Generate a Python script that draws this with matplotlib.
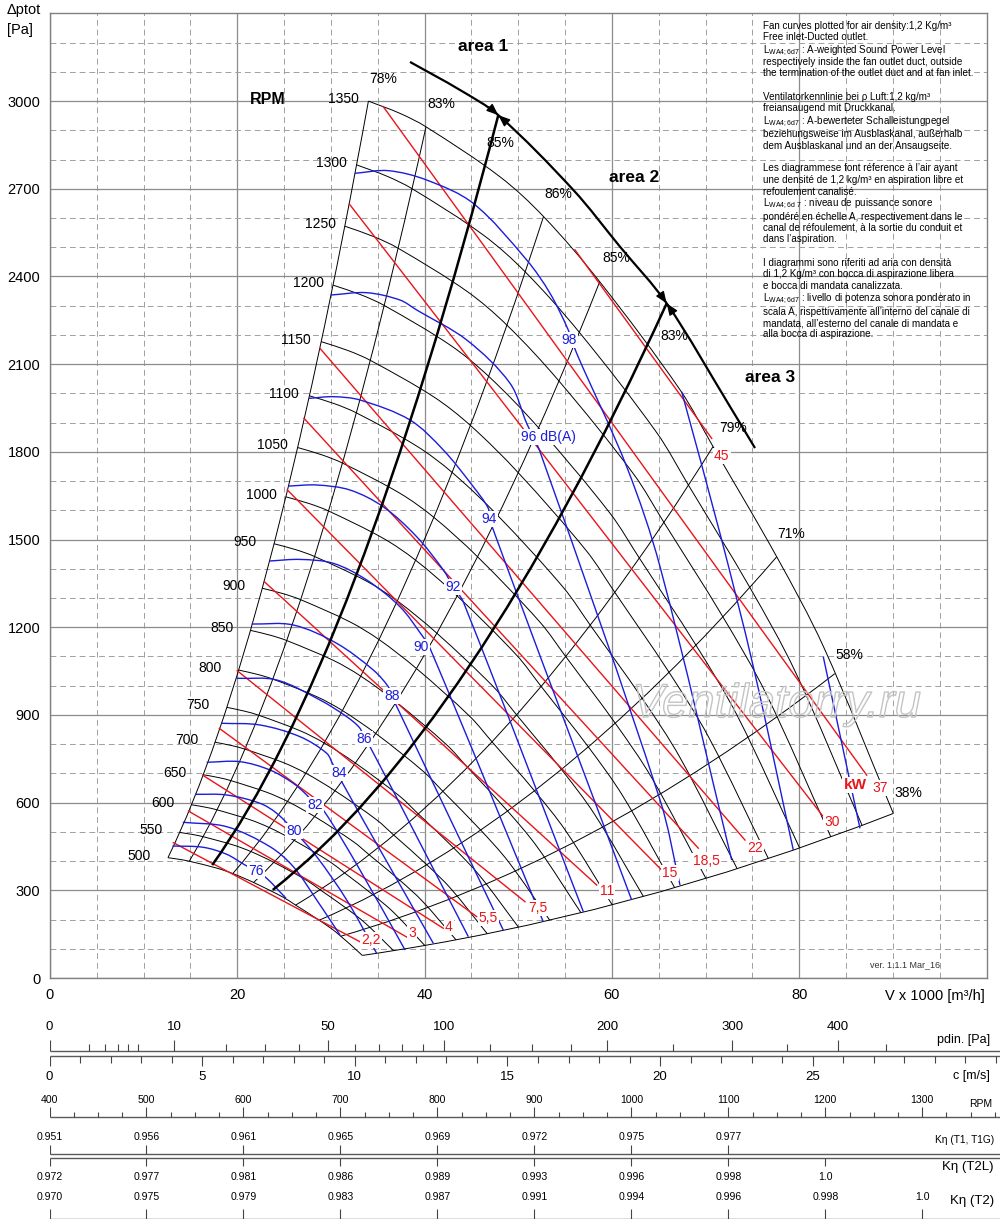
import numpy as np
import matplotlib
matplotlib.use('Agg')
import matplotlib.pyplot as plt
import matplotlib.patheffects as pe
from matplotlib.path import Path
from matplotlib.patches import PathPatch
from matplotlib import font_manager as fm

plt.rcParams['font.family'] = ['Liberation Sans', 'DejaVu Sans']
plt.rcParams['mathtext.fontset'] = 'custom'
plt.rcParams['mathtext.rm'] = 'Liberation Sans'
plt.rcParams['mathtext.it'] = 'Liberation Sans:italic'
plt.rcParams['mathtext.bf'] = 'Liberation Sans:bold'

W, H = 1000, 1219
RED = '#e8151b'
BLUE = '#1c1cdc'

# fan curve at top speed (1350 rpm)
base_v = [34.0, 37.37, 40.15, 48.05, 52.7, 58.7, 67.3, 70.8, 77.6, 82.6, 90.05]
base_p = [3000, 2958, 2912, 2741, 2605, 2382, 2011, 1818, 1441, 1133, 563]
rpm_top = 1350
rpm_list = [500, 550, 600, 650, 700, 750, 800, 850, 900, 950, 1000,
            1050, 1100, 1150, 1200, 1250, 1300, 1350]

# efficiency lines: where they meet the 1350 rpm curve
eff_v = [34.0, 40.15, 52.7, 58.7, 70.8, 77.6, 83.8, 90.05]
eff_text = ['78%', '83%', '85%', '86%', '85%', '83%', '79%', '71%', '58%', '38%']
eff_text_v = [35.56, 41.78, 48.05, 54.28, 60.51, 66.66, 72.96, 79.15, 85.39, 91.65]
eff_text_p = [3077, 2989, 2858, 2682, 2462, 2196, 1880, 1519, 1105, 632]

# area limits (bold lines) and the area arc
area_v = [47.87, 65.85]
area_p = [2952, 2308]
arc_v = [38.44, 43.78, 47.87, 55.88, 60.86, 65.85, 72.61, 75.28]
arc_p = [3134, 3038, 2952, 2696, 2502, 2308, 1955, 1813]
area_text = ['area 1', 'area 2', 'area 3']
area_text_v = [46.24, 62.36, 76.88]
area_text_p = [3188, 2740, 2056]

# shaft power lines [kW]
kw_text = ['2,2', '3', '4', '5,5', '7,5', '11', '15', '18,5', '22', '30', '37', '45']
kw_v0 = [13.17, 14.79, 16.30, 18.08, 20.0, 22.88, 25.34, 27.12, 28.83, 31.96, 35.59, 56.06]
kw_p0 = [463, 571, 694, 854, 1051, 1356, 1670, 1915, 2154, 2648, 2981, 2491]
kw_v1 = [33.10, 38.09, 42.0, 45.56, 50.72, 58.38, 65.32, 69.23, 74.21, 82.57, 87.21, 70.66]
kw_p1 = [124, 140, 170, 210, 261, 318, 369, 444, 472, 552, 694, 1846]
kw_text_v = [34.27, 38.69, 42.57, 46.8, 52.14, 59.45, 66.2, 70.12, 75.28, 83.47, 88.63, 71.72]
kw_text_p = [130, 155, 175.5, 204.2, 238.5, 298.7, 359.2, 401.3, 443.7, 534.7, 649, 1786]

# sound power lines [dB(A)]
db_levels = [76, 78, 80, 82, 84, 86, 88, 90, 92, 94, 96, 98, 100, 102]
db_v = [
    [13.08, 16.37, 18.87, 20.82, 22.0, 23.14, 25.2],
    [14.18, 18.87, 23.49, 25.98, 28.48, 30.97],
    [15.48, 18.87, 22.42, 24.21, 26.05, 28.48, 31.68, 34.88],
    [16.73, 20.29, 23.49, 25.98, 27.41, 28.3, 29.18, 33.1, 37.91],
    [18.33, 22.42, 26.7, 29.55, 30.25, 30.89, 31.15, 40.93],
    [19.93, 24.21, 28.83, 31.68, 33.1, 33.53, 34.17, 44.67],
    [21.54, 25.98, 30.61, 34.52, 36.12, 36.49, 48.4],
    [23.45, 26.7, 30.25, 33.82, 37.37, 39.69, 40.58, 52.67],
    [25.47, 28.48, 32.03, 35.59, 39.15, 42.0, 43.07, 44.13, 56.95],
    [27.64, 30.25, 33.1, 38.44, 42.0, 45.2, 46.8, 46.91, 62.11],
    [30.0, 33.82, 37.37, 39.16, 44.5, 49.12, 50.9, 52.32, 65.14, 67.27],
    [32.57, 36.12, 40.22, 45.2, 50.9, 53.39, 55.34, 56.24, 61.58, 65.14, 72.79],
    [67.45, 71.54, 75.1, 79.37],
    [82.57, 86.49],
]
db_p = [
    [451.6, 447.1, 423.2, 386.6, 366.1, 341.1, 272.7],
    [532.7, 517.6, 449.2, 380.8, 266.9, 147.1],
    [628.5, 626.1, 597.7, 563.5, 503.9, 415, 266.9, 84.5],
    [738, 740, 711.6, 666.1, 626.1, 591.9, 574.8, 369.5, 95.8],
    [871.4, 865.6, 825.5, 768.7, 728.7, 700.3, 671.6, 118.7],
    [1025.3, 1019.5, 951, 894, 854.3, 817.7, 791.3, 141.3],
    [1211, 1207.7, 1145, 1053.7, 996.6, 964.8, 164.2],
    [1426.6, 1432, 1418.7, 1361.6, 1270.2, 1173.4, 1128, 192.6],
    [1683, 1686.6, 1669.5, 1612, 1509.8, 1395.8, 1337.7, 1287, 226.8],
    [1983, 1988.7, 1977.4, 1909, 1806.4, 1680.8, 1606.9, 1570.3, 266.9],
    [2336.6, 2344.5, 2319.5, 2285.3, 2182.7, 2034.6, 1897.7, 1800.6, 609, 318.2],
    [2753, 2762, 2730, 2650, 2456.4, 2342.5, 2216.9, 2137, 1749.2, 1407, 403.7],
    [2005.8, 1521, 1065, 437.9],
    [1099.2, 512],
]
db_text = ['76', '80', '82', '84', '86', '88', '90', '92', '94', '96 dB(A)', '98']
db_text_v = [21.99, 26.05, 28.3, 30.89, 33.53, 36.49, 39.65, 43.07, 46.91, 53.18, 55.42]
db_text_p = [366, 504, 592, 700.3, 817.7, 964.8, 1133.4, 1337.7, 1570.3, 1850.8, 2182.7]

# scales under the chart
rho = 1.2
pdin_ticks = [0, 1, 2, 3, 4, 5, 10, 20, 30, 40, 50, 60, 70, 80, 90, 100,
              125, 150, 175, 200, 250, 300, 350, 400, 450]
pdin_labels = [0, 10, 50, 100, 200, 300, 400]
c_ticks = list(range(0, 32))
c_labels = [0, 5, 10, 15, 20, 25]
rpm_scale = [400, 500, 600, 700, 800, 900, 1000, 1100, 1200, 1300]
k_t1 = ['0.951', '0.956', '0.961', '0.965', '0.969', '0.972', '0.975', '0.977']
k_t2l = ['0.972', '0.977', '0.981', '0.986', '0.989', '0.993', '0.996', '0.998', '1.0']
k_t2 = ['0.970', '0.975', '0.979', '0.983', '0.987', '0.991', '0.994', '0.996', '0.998', '1.0']

LW = r'$\mathregular{L_{WA4;6d7}}$'
notes = [
    'Fan curves plotted for air density:1,2 Kg/m³',
    'Free inlet-Ducted outlet.',
    LW + ' : A-weighted Sound Power Level',
    'respectively inside the fan outlet duct, outside',
    'the termination of the outlet duct and at fan inlet.',
    'Ventilatorkennlinie bei ρ Luft:1,2 kg/m³',
    'freiansaugend mit Druckkanal.',
    LW + ' : A-bewerteter Schalleistungpegel',
    'beziehungsweise im Ausblaskanal, außerhalb',
    'dem Ausblaskanal und an der Ansaugseite.',
    'Les diagrammese font réference à l’air ayant',
    'une densité de 1,2 kg/m³ en aspiration libre et',
    'refoulement canalisé.',
    r'$\mathregular{L_{WA4;6d\ 7}}$ : niveau de puissance sonore',
    'pondéré en échelle A, respectivement dans le',
    'canal de réfoulement, à la sortie du conduit et',
    'dans l’aspiration.',
    'I diagrammi sono riferiti ad aria con densità',
    'di 1,2 Kg/m³ con bocca di aspirazione libera',
    'e bocca di mandata canalizzata.',
    LW + ' : livello di potenza sonora ponderato in',
    'scala A, rispettivamente all’interno del canale di',
    'mandata, all’esterno del canale di mandata e',
    'alla bocca di aspirazione.',
]
notes_y = [26, 37, 51, 62, 73, 97, 108, 122, 134, 146, 168, 180, 192,
           204, 217, 228, 239, 263, 274, 286, 299, 312, 323, 334]

PX = np.array([9.365, 0.2923])  # screen pixels per data unit


def smooth(v, p):
    # chord-length Catmull-Rom through the read points, as a bezier path
    pts = np.column_stack([v, p]).astype(float) * PX
    n = len(pts)
    if n < 3:
        return Path(pts / PX)
    d = np.hypot(*np.diff(pts, axis=0).T)
    t = np.concatenate([[0], np.cumsum(d)])
    tang = np.zeros_like(pts)
    tang[0] = (pts[1] - pts[0]) / d[0]
    tang[-1] = (pts[-1] - pts[-2]) / d[-1]
    for i in range(1, n - 1):
        tang[i] = (pts[i + 1] - pts[i - 1]) / (t[i + 1] - t[i - 1])
    verts = [pts[0]]
    codes = [Path.MOVETO]
    for i in range(n - 1):
        h = d[i]
        verts += [pts[i] + tang[i] * h / 3, pts[i + 1] - tang[i + 1] * h / 3, pts[i + 1]]
        codes += [Path.CURVE4] * 3
    return Path(np.array(verts) / PX, codes)


def parabola(k, v0, v1):
    verts = [(v0, k * v0 * v0), ((v0 + v1) / 2, k * v0 * v1), (v1, k * v1 * v1)]
    return Path(verts, [Path.MOVETO, Path.CURVE3, Path.CURVE3])


fig = plt.figure(figsize=(W / 100, H / 100), dpi=100)
ax = fig.add_axes([0.05, 1 - 978 / H, 0.9365, 3300 * 0.2923 / H])
ax.set_xlim(0, 100)
ax.set_ylim(0, 3300)
ax.set_xticks([0, 20, 40, 60, 80])
ax.set_yticks(np.arange(0, 3001, 300))
ax.set_xticks(np.arange(0, 101, 5), minor=True)
ax.set_yticks(np.arange(0, 3301, 100), minor=True)
ax.tick_params(which='both', length=0, labelsize=10.5)
ax.tick_params(axis='x', pad=7.5)
ax.tick_params(axis='y', pad=7)
ax.grid(which='major', color='#8c8c8c', lw=0.9)
ax.grid(which='minor', color='#a0a0a0', lw=0.7, ls=(0, (6, 4)))
ax.set_axisbelow(True)
for s in ax.spines.values():
    s.set_color('#808080')
    s.set_linewidth(1)

bv = np.array(base_v, float)
bp = np.array(base_p, float)
r0 = rpm_list[0] / rpm_top
kb = bp / bv ** 2

# rpm curves
for n in rpm_list:
    r = n / rpm_top
    ax.add_patch(PathPatch(smooth(bv * r, bp * r * r), fill=False, ec='k', lw=0.7, zorder=2))
    ax.annotate(str(n), xy=(bv[0] * r, bp[0] * r * r), xytext=(-29, 1.5),
                textcoords='offset points', ha='left', va='center', fontsize=10, zorder=6)

# efficiency lines
for ve in eff_v:
    pe_ = np.interp(ve, bv, bp)
    k = pe_ / ve ** 2
    ax.add_patch(PathPatch(parabola(k, ve * r0, ve), fill=False, ec='k', lw=0.7, zorder=2))
for t, x, y in zip(eff_text, eff_text_v, eff_text_p):
    ax.text(x, y, t, ha='center', va='center', fontsize=10, zorder=6)

# area limits and arc
for av, ap in zip(area_v, area_p):
    k = ap / av ** 2
    vb = np.interp(k, kb[::-1], bv[::-1])
    ax.add_patch(PathPatch(parabola(k, vb * r0, av), fill=False, ec='k', lw=1.8, zorder=4))
ax.add_patch(PathPatch(smooth(arc_v, arc_p), fill=False, ec='k', lw=1.6, zorder=4))
for av, ap in zip(area_v, area_p):
    j = arc_v.index(av)
    a = ax.transData.transform((arc_v[j - 1], arc_p[j - 1]))
    b = ax.transData.transform((arc_v[j + 1], arc_p[j + 1]))
    t = (b - a) / np.hypot(*(b - a))
    for sgn in (-1, 1):
        ax.annotate('', xy=(av, ap), xytext=(sgn * t[0] * 9, sgn * t[1] * 9),
                    textcoords='offset points',
                    arrowprops=dict(arrowstyle='-|>,head_length=0.7,head_width=0.28',
                                    color='k', lw=1.0, shrinkA=0, shrinkB=0), zorder=5)
for t, x, y in zip(area_text, area_text_v, area_text_p):
    ax.text(x, y, t, ha='center', va='center', fontsize=12.5, fontweight='bold', zorder=6)
ax.text(23.28, 3004, 'RPM', ha='center', va='center', fontsize=11.5, fontweight='bold', zorder=6)

box = dict(boxstyle='square,pad=0.08', fc='white', ec='none')

# power lines
for v0, p0, v1, p1 in zip(kw_v0, kw_p0, kw_v1, kw_p1):
    ax.plot([v0, v1], [p0, p1], color=RED, lw=1.0, zorder=3)
for t, x, y in zip(kw_text, kw_text_v, kw_text_p):
    ax.text(x, y, t, color=RED, ha='center', va='center', fontsize=10, bbox=box, zorder=7)
ax.text(85.96, 660, 'kW', color=RED, ha='center', va='center', fontsize=11,
        fontweight='bold', bbox=box, zorder=7)

# sound lines
for v, p in zip(db_v, db_p):
    ax.add_patch(PathPatch(smooth(v, p), fill=False, ec=BLUE, lw=1.0, zorder=3))
for t, x, y in zip(db_text, db_text_v, db_text_p):
    ax.text(x, y, t, color=BLUE, ha='center', va='center', fontsize=10, bbox=box, zorder=7)

# watermark and version
ax.text(77.6, 934, 'Ventilatorry.ru', color='none', fontsize=34, style='italic',
        ha='center', va='center', zorder=8,
        path_effects=[pe.Stroke(linewidth=1.0, foreground='#c4c4c4')])
ax.text(91.3, 44.5, 'ver. 1.1.1 Mar_16', ha='center', va='center', fontsize=6.5,
        color='#333333', zorder=6)

# axis captions
fig.text(7 / W, 1 - 10 / H, 'Δptot', ha='left', va='center', fontsize=10.5)
fig.text(7 / W, 1 - 30 / H, '[Pa]', ha='left', va='center', fontsize=10.5)
fig.text(985 / W, 1 - 996 / H, 'V x 1000 [m³/h]', ha='right', va='center', fontsize=10.5)

for t, y in zip(notes, notes_y):
    fig.text(763 / W, 1 - y / H, t, ha='left', va='center', fontsize=7.1)

# ---- bottom scales ----
names = {f.name for f in fm.fontManager.ttflist}
narrow = 'Liberation Sans Narrow' if 'Liberation Sans Narrow' in names else 'Liberation Sans'
nfs = 9 if narrow != 'Liberation Sans' else 7.6
lc = '#5a5a5a'

axc = fig.add_axes([49.5 / W, 1 - 1085 / H, 1 - 49.5 / W, 75 / H])
axc.set_xlim(0, (W - 49.5) / 30.53)
axc.set_ylim(1085, 1010)
axc.axis('off')
cmax = axc.get_xlim()[1]
axc.hlines([1050.5, 1056], 0, cmax, color=lc, lw=1)
for pt in pdin_ticks:
    c = np.sqrt(2 * pt / rho)
    top = 1040 if pt in pdin_labels else 1043.5
    axc.vlines(c, top, 1050.5, color='#444', lw=0.8)
for pt in pdin_labels:
    axc.text(np.sqrt(2 * pt / rho), 1027, str(pt), ha='center', va='center', fontsize=9.5)
for c in c_ticks:
    bot = 1066 if c in c_labels else 1062.5
    axc.vlines(c, 1056, bot, color='#444', lw=0.8)
for c in c_labels:
    axc.text(c, 1077, str(c), ha='center', va='center', fontsize=9.5)
fig.text(990 / W, 1 - 1040 / H, 'pdin. [Pa]', ha='right', va='center', fontsize=9)
fig.text(990 / W, 1 - 1076 / H, 'c [m/s]', ha='right', va='center', fontsize=9)

axr = fig.add_axes([49.5 / W, 0, 1 - 49.5 / W, 134 / H])
axr.set_xlim(400, 400 + (W - 49.5) / 0.9697)
axr.set_ylim(H, 1085)
axr.axis('off')
rmax = axr.get_xlim()[1]
axr.hlines([1116.5, 1153.5, 1157.5, 1218.5], 400, rmax, color=lc, lw=1)
for n in range(400, 1376, 25):
    top = 1106.5 if n % 100 == 0 else 1111.5
    axr.vlines(n, top, 1116.5, color='#444', lw=0.8)
for n in rpm_scale:
    axr.text(n, 1100, str(n), ha='center', va='center', fontsize=nfs, family=narrow)
for n, t in zip(rpm_scale, k_t1):
    axr.vlines(n, 1145, 1153.5, color='#444', lw=0.8)
    axr.text(n, 1137, t, ha='center', va='center', fontsize=nfs, family=narrow)
for n, t in zip(rpm_scale, k_t2l):
    axr.vlines(n, 1157.5, 1166, color='#444', lw=0.8)
    axr.text(n, 1177, t, ha='center', va='center', fontsize=nfs, family=narrow)
for n, t in zip(rpm_scale, k_t2):
    axr.vlines(n, 1209, 1218.5, color='#444', lw=0.8)
    axr.text(n, 1197, t, ha='center', va='center', fontsize=nfs, family=narrow)
fig.text(992 / W, 1 - 1104 / H, 'RPM', ha='right', va='center', fontsize=7.5, family=narrow)
fig.text(994 / W, 1 - 1140 / H, 'Kη (T1, T1G)', ha='right', va='center', fontsize=7.3, family=narrow)
fig.text(994 / W, 1 - 1167 / H, 'Kη (T2L)', ha='right', va='center', fontsize=9.5)
fig.text(994 / W, 1 - 1201 / H, 'Kη (T2)', ha='right', va='center', fontsize=9.5)

fig.savefig('out.png', dpi=100)
